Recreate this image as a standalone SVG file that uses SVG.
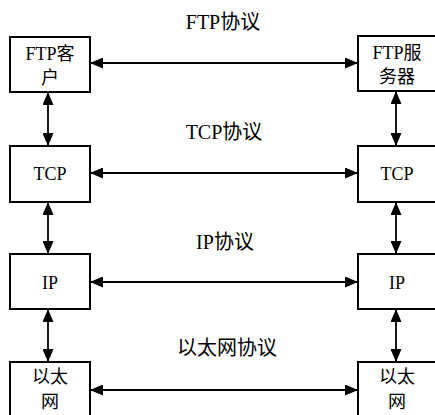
<svg xmlns="http://www.w3.org/2000/svg" width="435" height="415" viewBox="0 0 435 415">
  <style>
    .box { fill: #fff; stroke: #000; stroke-width: 2; }
    .lbl { font-size: 18px; fill: #000; text-anchor: middle; }
    .top { font-size: 20px; fill: #000; text-anchor: middle; }
    .link { stroke: #000; stroke-width: 1.8; fill: none; marker-start: url(#head); marker-end: url(#head); }
  </style>
  <defs>
    <marker id="head" viewBox="0 0 13 11" refX="13" refY="5.5" markerWidth="13" markerHeight="11" markerUnits="userSpaceOnUse" orient="auto-start-reverse">
      <path d="M0,0 L13,5.5 L0,11 Z" fill="#000"/>
    </marker>
  </defs>

  <g font-family="Liberation Serif, Times New Roman, Noto Sans CJK SC, serif">
  <!-- protocol labels -->
  <g id="labels">
    <text class="top" x="223" y="29">FTP协议</text>
    <text class="top" x="224" y="139">TCP协议</text>
    <text class="top" x="225" y="249">IP协议</text>
    <text class="top" x="227" y="355">以太网协议</text>
  </g>

  <!-- client stack -->
  <g id="ftp-client">
    <rect class="box" x="10" y="37" width="80" height="55"/>
    <text class="lbl" x="50" y="60">FTP客</text>
    <text class="lbl" x="50" y="84">户</text>
  </g>
  <g id="tcp-client">
    <rect class="box" x="10" y="146" width="80" height="56"/>
    <text class="lbl" x="50" y="180">TCP</text>
  </g>
  <g id="ip-client">
    <rect class="box" x="10" y="254" width="80" height="55"/>
    <text class="lbl" x="50" y="289">IP</text>
  </g>
  <g id="eth-client">
    <rect class="box" x="10" y="362" width="80" height="60"/>
    <text class="lbl" x="50" y="383">以太</text>
    <text class="lbl" x="50" y="408">网</text>
  </g>

  <!-- server stack -->
  <g id="ftp-server">
    <rect class="box" x="358" y="36" width="84" height="55"/>
    <text class="lbl" x="397" y="59">FTP服</text>
    <text class="lbl" x="397" y="83">务器</text>
  </g>
  <g id="tcp-server">
    <rect class="box" x="358" y="146" width="84" height="56"/>
    <text class="lbl" x="397" y="180">TCP</text>
  </g>
  <g id="ip-server">
    <rect class="box" x="358" y="254" width="84" height="55"/>
    <text class="lbl" x="397" y="289">IP</text>
  </g>
  <g id="eth-server">
    <rect class="box" x="358" y="362" width="84" height="60"/>
    <text class="lbl" x="397" y="383">以太</text>
    <text class="lbl" x="397" y="408">网</text>
  </g>
  </g>

  <!-- connectors -->
  <g id="connectors">
    <line class="link" x1="90" y1="63" x2="358" y2="63"/>
    <line class="link" x1="90" y1="173" x2="358" y2="173"/>
    <line class="link" x1="90" y1="282" x2="358" y2="282"/>
    <line class="link" x1="90" y1="390" x2="358" y2="390"/>

    <line class="link" x1="48" y1="92" x2="48" y2="146"/>
    <line class="link" x1="48" y1="202" x2="48" y2="254"/>
    <line class="link" x1="48" y1="309" x2="48" y2="362"/>

    <line class="link" x1="396" y1="91" x2="396" y2="146"/>
    <line class="link" x1="396" y1="202" x2="396" y2="254"/>
    <line class="link" x1="396" y1="309" x2="396" y2="362"/>
  </g>
</svg>
